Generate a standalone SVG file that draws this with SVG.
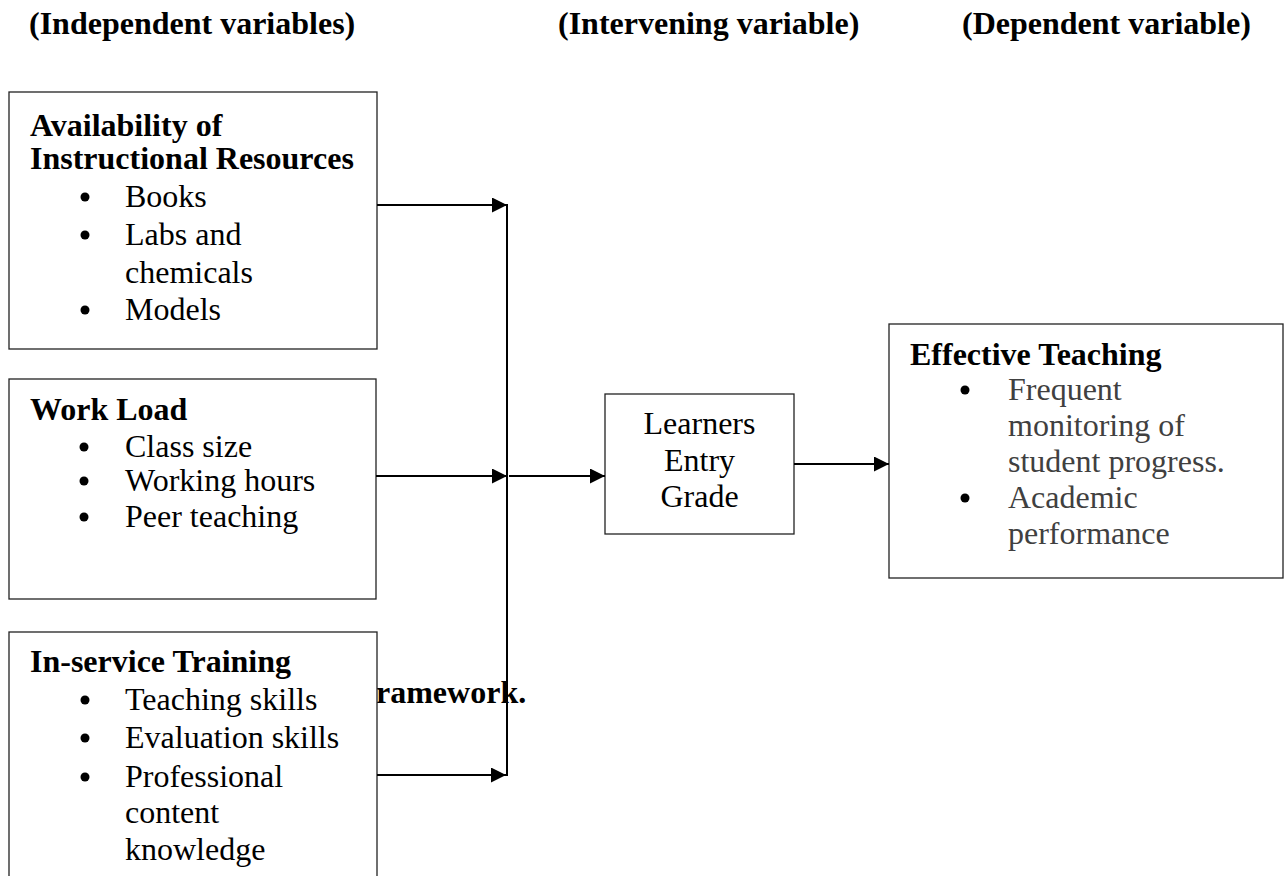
<svg xmlns="http://www.w3.org/2000/svg" width="1284" height="876" viewBox="0 0 1284 876">
<style>
text{font-family:"Liberation Serif","Times New Roman",serif;font-size:32px;fill:#000}
.b{font-weight:bold}
.g{fill:#404040}
.box{fill:#fff;stroke:#222;stroke-width:1.3}
.ln{stroke:#000;stroke-width:2;fill:none}
</style>
<defs>
<marker id="ah" markerWidth="15" markerHeight="15" refX="15" refY="7.5" orient="auto" markerUnits="userSpaceOnUse">
<path d="M0,0 L15,7.5 L0,15 Z" fill="#000"/>
</marker>
</defs>
<rect width="1284" height="876" fill="#fff"/>
<g id="headers" class="b">
<text class="b" x="29" y="34">(Independent variables)</text>
<text class="b" x="558" y="34">(Intervening variable)</text>
<text class="b" x="962" y="34">(Dependent variable)</text>
</g>
<g id="stray-caption">
<text class="b" x="376" y="703">ramework.</text>
</g>
<g id="node-resources">
<rect class="box" x="9" y="92" width="368" height="257"/>
<text class="b" x="30" y="136">Availability of</text>
<text class="b" x="30" y="169">Instructional Resources</text>
<circle cx="85" cy="197" r="4.5"/><text x="125" y="207">Books</text>
<circle cx="85" cy="235" r="4.5"/><text x="125" y="245">Labs and</text>
<text x="125" y="283">chemicals</text>
<circle cx="85" cy="310" r="4.5"/><text x="125" y="320">Models</text>
</g>
<g id="node-workload">
<rect class="box" x="9" y="379" width="367" height="220"/>
<text class="b" x="30" y="420">Work Load</text>
<circle cx="84" cy="447" r="4.5"/><text x="125" y="457">Class size</text>
<circle cx="84" cy="481" r="4.5"/><text x="125" y="491">Working hours</text>
<circle cx="84" cy="517" r="4.5"/><text x="125" y="527">Peer teaching</text>
</g>
<g id="node-inservice">
<rect class="box" x="9" y="632" width="368" height="260"/>
<text class="b" x="30" y="672">In-service Training</text>
<circle cx="85" cy="700" r="4.5"/><text x="125" y="710">Teaching skills</text>
<circle cx="85" cy="738" r="4.5"/><text x="125" y="748">Evaluation skills</text>
<circle cx="85" cy="777" r="4.5"/><text x="125" y="787">Professional</text>
<text x="125" y="823">content</text>
<text x="125" y="860">knowledge</text>
</g>
<g id="node-learners">
<rect class="box" x="605" y="394" width="189" height="140"/>
<text x="699.5" y="434" text-anchor="middle">Learners</text>
<text x="699.5" y="471" text-anchor="middle">Entry</text>
<text x="699.5" y="507" text-anchor="middle">Grade</text>
</g>
<g id="node-effective">
<rect class="box" x="889" y="324" width="394" height="254"/>
<text class="b" x="910" y="365">Effective Teaching</text>
<circle cx="965" cy="390" r="4.5" fill="#000"/><text class="g" x="1008" y="400">Frequent</text>
<text class="g" x="1008" y="436">monitoring of</text>
<text class="g" x="1008" y="472">student progress.</text>
<circle cx="965" cy="498" r="4.5" fill="#000"/><text class="g" x="1008" y="508">Academic</text>
<text class="g" x="1008" y="544">performance</text>
</g>
<g id="connectors">
<line class="ln" x1="507" y1="204" x2="507" y2="776"/>
<line class="ln" x1="377" y1="205" x2="507" y2="205" marker-end="url(#ah)"/>
<line class="ln" x1="376" y1="476" x2="507" y2="476" marker-end="url(#ah)"/>
<line class="ln" x1="509" y1="476" x2="605" y2="476" marker-end="url(#ah)"/>
<line class="ln" x1="377" y1="775" x2="506" y2="775" marker-end="url(#ah)"/>
<line class="ln" x1="794" y1="464" x2="889" y2="464" marker-end="url(#ah)"/>
</g>
</svg>
